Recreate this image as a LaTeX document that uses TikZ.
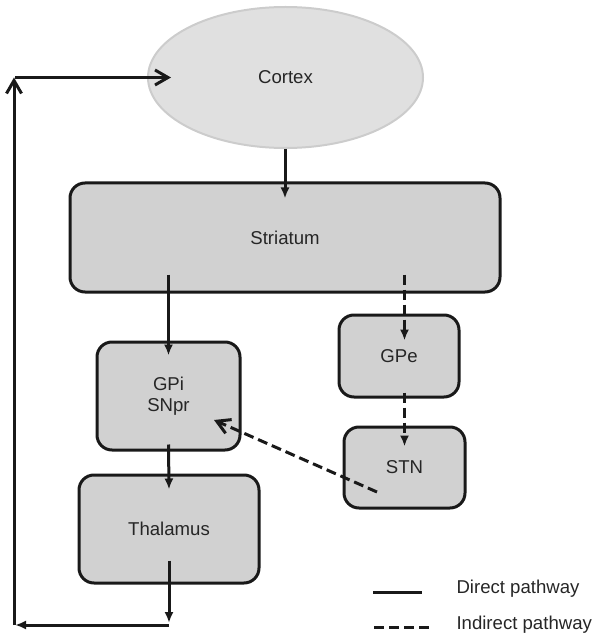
\documentclass[tikz,border=0pt]{standalone}
\usepackage{fontspec}
\setmainfont{Liberation Sans}
\usetikzlibrary{positioning,shapes,arrows.meta,calc}

\begin{document}
\begin{tikzpicture}[x=0.5pt,y=-0.5pt,line width=1.5pt,draw=black!90,
                    font=\fontsize{9.3}{10.5}\selectfont, text=black!85,
                    direct/.style={-{Latex[length=5.5pt,width=4.5pt]}},
                    indirect/.style={direct, dash pattern=on 5pt off 2.5pt},
                    open/.style={-{Straight Barb[length=6.5pt,width=7.5pt]}}]
  \tikzstyle{box}=[draw=black!90, fill=black!18, rounded corners=7.5pt,
                   inner sep=0pt, align=center]

  \useasboundingbox (0,0) rectangle (592,636);

  \node[ellipse, draw=black!20, line width=1pt, fill=black!12,
        minimum width=137.5pt, minimum height=70.5pt] (A) at (285.5,77.5) {Cortex};
  \node[box, minimum width=215pt, minimum height=54.5pt]  (B) at (285,237.5)   {Striatum};
  \node[box, minimum width=71.5pt, minimum height=54pt]   (C) at (168.5,396)   {GPi\\SNpr};
  \node[box, minimum width=60pt, minimum height=41pt]     (D) at (399,356)     {GPe};
  \node[box, minimum width=60.5pt, minimum height=40.5pt] (E) at (404.5,467.5) {STN};
  \node[box, minimum width=90pt, minimum height=54pt]     (F) at (169,529)     {Thalamus};

  % feedback loop corners
  \coordinate (G) at (169,625);
  \coordinate (H) at (14,625);
  \coordinate (I) at (14,77.5);

  \draw[direct] (A.south -| B.north) -- ([yshift=-8.5pt]B.north);
  \draw[direct] ([yshift=9.5pt]B.south -| C.north) -- ([yshift=-7.5pt]C.north);
  \draw[indirect] ([yshift=9.5pt]B.south -| E.north) -- ([yshift=-13.5pt]D.north -| E.north);
  \draw[indirect] ([yshift=3pt]D.south -| E.north) -- ([yshift=-10.5pt]E.north);
  \draw[indirect, open] ([xshift=-13.75pt,yshift=-12.25pt]E.center)
                     -- ([xshift=22.75pt,yshift=-12pt]C.center);
  \draw[direct] ([yshift=3.5pt]C.south) -- ([yshift=-8pt]F.north);
  \draw[direct] ([yshift=12pt]F.south) -- ([yshift=1pt]G);
  \draw[direct] (G) -- ([xshift=0.5pt]H);
  \draw[open] (H) -- (I);
  \draw[open] ([xshift=0.5pt]I) -- ([xshift=12pt]A.west);

  % legend
  \coordinate (L1) at (373,592);
  \coordinate (L2) at (422,592);
  \coordinate (L3) at (374,627);
  \coordinate (L4) at (431,627);
  \draw (L1) -- (L2);
  \draw[dash pattern=on 5pt off 2.5pt] (L3) -- (L4);
  \node[anchor=west, inner sep=0pt] (M) at (455,589) {Direct pathway};
  \node[anchor=west, inner sep=0pt] (N) at (455,625) {Indirect pathway};

\end{tikzpicture}
\end{document}
